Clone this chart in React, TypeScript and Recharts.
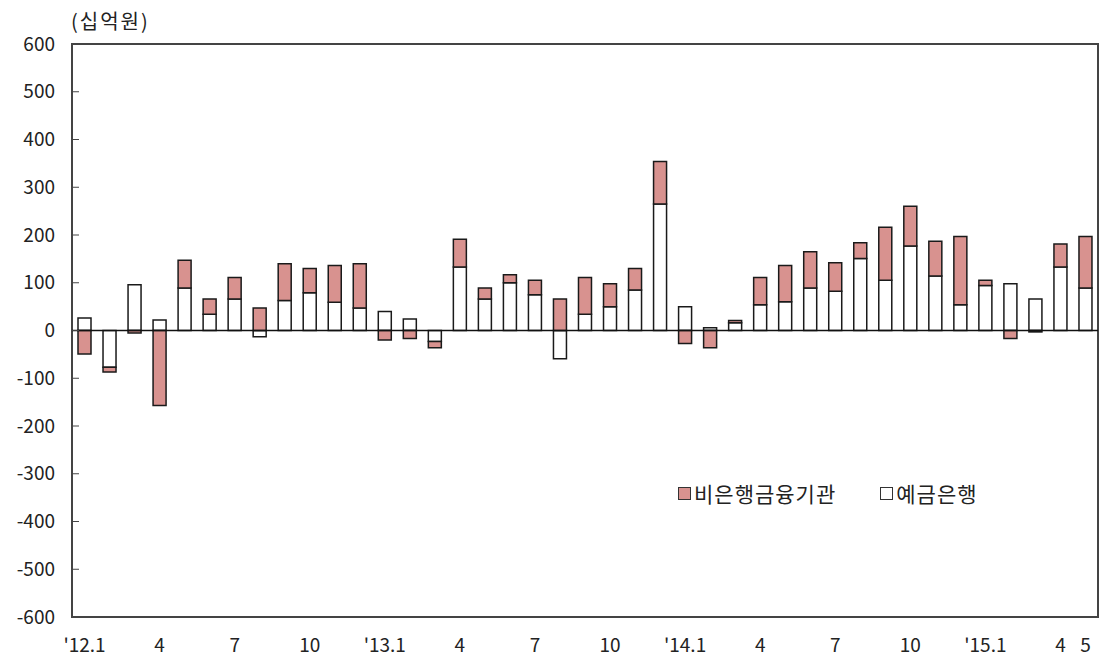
import { Bar, BarChart, ReferenceArea, ReferenceLine, XAxis, YAxis } from "recharts";

const months = [
  "12.01", "12.02", "12.03", "12.04", "12.05", "12.06", "12.07", "12.08", "12.09", "12.10", "12.11", "12.12",
  "13.01", "13.02", "13.03", "13.04", "13.05", "13.06", "13.07", "13.08", "13.09", "13.10", "13.11", "13.12",
  "14.01", "14.02", "14.03", "14.04", "14.05", "14.06", "14.07", "14.08", "14.09", "14.10", "14.11", "14.12",
  "15.01", "15.02", "15.03", "15.04", "15.05",
];
const tickLabels = [
  "'12.1", "", "", "4", "", "", "7", "", "", "10", "", "",
  "'13.1", "", "", "4", "", "", "7", "", "", "10", "", "",
  "'14.1", "", "", "4", "", "", "7", "", "", "10", "", "",
  "'15.1", "", "", "4", "5",
];
// 예금은행
const depositBanks = [
  26, -77, 96, 22, 89, 34, 66, -13, 63, 79, 59, 47,
  40, 24, -23, 133, 66, 100, 75, -59, 34, 50, 85, 265,
  50, 6, 16, 54, 60, 89, 82, 151, 105, 177, 114, 54,
  94, 98, 66, 133, 89,
];
// 비은행금융기관
const nonBanks = [
  -49, -10, -5, -157, 58, 32, 45, 47, 77, 51, 77, 93,
  -20, -17, -13, 58, 23, 17, 30, 66, 77, 48, 45, 89,
  -27, -36, 5, 57, 76, 76, 60, 33, 111, 83, 73, 143,
  11, -17, -3, 48, 108,
];
const yTicks = [-600, -500, -400, -300, -200, -100, 0, 100, 200, 300, 400, 500, 600];

const data = months.map((m, i) => ({ month: m, deposit: depositBanks[i], nonbank: nonBanks[i] }));

const PINK = "#d8928f";
const EDGE = "#1a1a1a";
const FONT = "'Noto Sans CJK KR', sans-serif";

function LegendItem({ color, text, gap }: { color: string; text: string; gap: number }) {
  return (
    <span style={{ display: "inline-flex", alignItems: "center", marginRight: gap }}>
      <span style={{ width: 11, height: 11, background: color, border: "1px solid #333", marginRight: 3 }} />
      <span>{text}</span>
    </span>
  );
}

export default function App() {
  return (
    <div style={{ position: "absolute", left: 0, top: 0, width: 1101, height: 665, background: "#fff" }}>
      <div
        style={{
          position: "absolute",
          left: 71,
          top: 6,
          fontFamily: FONT,
          fontSize: 20,
          letterSpacing: 2,
          color: "#222",
        }}
      >
        (십억원)
      </div>
      <BarChart
        width={1101}
        height={665}
        data={data}
        stackOffset="sign"
        margin={{ top: 44, right: 3, bottom: 8, left: 0 }}
        barSize={13}
      >
        <XAxis
          dataKey="month"
          interval={0}
          tickLine={false}
          axisLine={false}
          height={40}
          tickMargin={16}
          tickFormatter={(_v, i) => tickLabels[i]}
          tick={{ fill: "#222", fontSize: 19, fontFamily: FONT }}
        />
        <YAxis
          type="number"
          domain={[-600, 600]}
          ticks={yTicks}
          width={72}
          tickSize={-7}
          tickMargin={24}
          axisLine={false}
          tickLine={{ stroke: "#444" }}
          tick={{ fill: "#222", fontSize: 19, fontFamily: FONT }}
        />
        <ReferenceArea y1={-600} y2={600} fill="none" stroke="#444" strokeWidth={2} ifOverflow="visible" />
        <Bar dataKey="deposit" stackId="a" fill="#fff" stroke={EDGE} strokeWidth={1.5} isAnimationActive={false} />
        <Bar dataKey="nonbank" stackId="a" fill={PINK} stroke={EDGE} strokeWidth={1.5} isAnimationActive={false} />
        <ReferenceLine y={0} stroke="#111" strokeWidth={1.5} />
      </BarChart>
      <div
        style={{
          position: "absolute",
          left: 678,
          top: 478,
          display: "flex",
          fontFamily: FONT,
          fontSize: 21,
          letterSpacing: 1,
          color: "#222",
        }}
      >
        <LegendItem color={PINK} text="비은행금융기관" gap={44} />
        <LegendItem color="#fff" text="예금은행" gap={0} />
      </div>
    </div>
  );
}
